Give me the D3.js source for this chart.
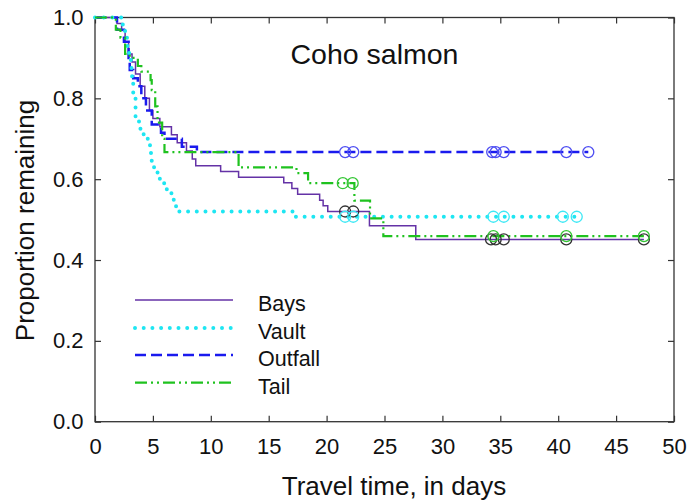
<!DOCTYPE html>
<html><head><meta charset="utf-8">
<script src="https://cdn.jsdelivr.net/npm/d3@7"></script>
<style>body{margin:0;background:#fff}svg{display:block;font-family:"Liberation Sans",Arial,sans-serif}</style>
</head><body><svg id="c" width="692" height="502"></svg>
<script>
const categories = ["Bays", "Vault", "Outfall", "Tail"];
const xTicks = [0,5,10,15,20,25,30,35,40,45,50];
const yTicks = [0.0,0.2,0.4,0.6,0.8,1.0];

const baysTimes = [0,1.9,2.3,2.6,2.9,3.2,3.5,3.9,4.3,4.7,5.0,5.6,6.6,7.1,7.9,8.4,8.7,10.85,12.4,16.3,17.0,17.5,19.4,19.7,20.1,23.7,27.7];
const baysSurv  = [1.0,0.985,0.97,0.94,0.91,0.89,0.86,0.83,0.80,0.77,0.75,0.73,0.71,0.69,0.67,0.65,0.633,0.619,0.605,0.591,0.577,0.563,0.548,0.534,0.52,0.485,0.451];
const baysEnd = 47.4;
const baysCensor = [21.6,22.3,34.2,34.6,35.3,40.7,47.4];

const vaultTimes = [0,2.4,2.6,2.8,2.95,3.1,3.2,3.3,3.5,3.8,4.2,4.6,4.75,4.9,5.1,5.4,5.6,6.0,6.4,6.6,6.8,7.0,17.3];
const vaultSurv  = [1.0,0.975,0.95,0.925,0.90,0.875,0.85,0.80,0.75,0.725,0.70,0.685,0.665,0.645,0.625,0.605,0.59,0.575,0.565,0.55,0.535,0.52,0.507];
const vaultEnd = 41.6;
const vaultCensor = [21.6,22.3,34.4,35.3,40.4,41.6];

const outfallTimes = [0,1.9,2.5,2.9,3.0,3.3,3.7,4.0,4.4,4.9,5.7,6.0,7.5,8.8];
const outfallSurv  = [1.0,0.97,0.94,0.90,0.87,0.85,0.83,0.80,0.77,0.735,0.715,0.70,0.68,0.667];
const outfallEnd = 42.6;
const outfallCensor = [21.6,22.3,34.3,34.6,35.3,40.7,42.6];

const tailTimes = [0,1.8,2.2,2.6,3.0,3.7,4.0,4.8,4.9,5.2,5.4,5.8,6.0,12.4,17.4,18.4,22.4,23.75,24.9];
const tailSurv  = [1.0,0.97,0.95,0.91,0.90,0.88,0.866,0.845,0.82,0.78,0.74,0.70,0.667,0.629,0.615,0.59,0.547,0.503,0.459];
const tailEnd = 47.4;
const tailCensor = [21.4,22.25,34.4,40.7,47.4];

const series = [
  {name:"Bays", t:baysTimes, s:baysSurv, end:baysEnd, c:baysCensor, color:"#6432a6", circ:"#333333", w:1.5, dash:null, cap:"butt"},
  {name:"Outfall", t:outfallTimes, s:outfallSurv, end:outfallEnd, c:outfallCensor, color:"#1a1aee", circ:"#4d4df2", w:2.5, dash:"11,5", cap:"butt"},
  {name:"Vault", t:vaultTimes, s:vaultSurv, end:vaultEnd, c:vaultCensor, color:"#1ee6f2", circ:"#3de8f5", w:4, dash:"0,8.7", cap:"round"},
  {name:"Tail", t:tailTimes, s:tailSurv, end:tailEnd, c:tailCensor, color:"#1fc21f", circ:"#33c633", w:2.2, dash:"12,4,2,4,2,4", cap:"butt"}
];

const svg = d3.select("#c");
const L=95, R=674, T=17.5, B=421.7;
const x = d3.scaleLinear().domain([0,50]).range([L,R]);
const y = d3.scaleLinear().domain([0,1]).range([B,T]);
const FONT = "Liberation Sans, Arial, sans-serif";

svg.append("rect").attr("x",L).attr("y",T).attr("width",R-L).attr("height",B-T)
  .attr("fill","none").attr("stroke","#333").attr("stroke-width",1.3);

const axB = svg.append("g").attr("transform",`translate(0,${B})`)
  .call(d3.axisBottom(x).tickValues(xTicks).tickSize(-6).tickPadding(17).tickFormat(d3.format("d")));
const axT = svg.append("g").attr("transform",`translate(0,${T})`)
  .call(d3.axisTop(x).tickValues(xTicks).tickSize(-6).tickFormat(""));
const axL = svg.append("g").attr("transform",`translate(${L},0)`)
  .call(d3.axisLeft(y).tickValues(yTicks).tickSize(-6).tickPadding(11.5).tickFormat(d3.format(".1f")));
const axR = svg.append("g").attr("transform",`translate(${R},0)`)
  .call(d3.axisRight(y).tickValues(yTicks).tickSize(-6).tickFormat(""));
[axB,axT,axL,axR].forEach(a=>{
  a.select(".domain").remove();
  a.selectAll("line").attr("stroke","#333").attr("stroke-width",1.2);
  a.selectAll("text").attr("font-size",22).attr("fill","#111").attr("font-family",FONT);
});

function stepVal(sr,t){let v=sr.s[0];for(let i=0;i<sr.t.length;i++){if(sr.t[i]<=t)v=sr.s[i];}return v;}

const line = d3.line().x(d=>x(d[0])).y(d=>y(d[1])).curve(d3.curveStepAfter);
series.forEach(sr=>{
  const pts = sr.t.map((t,i)=>[t,sr.s[i]]);
  pts.push([sr.end, sr.s[sr.s.length-1]]);
  const p = svg.append("path").datum(pts).attr("d",line).attr("fill","none")
    .attr("stroke",sr.color).attr("stroke-width",sr.w).attr("stroke-linecap",sr.cap);
  if(sr.dash) p.attr("stroke-dasharray",sr.dash);
});
series.forEach(sr=>{
  svg.append("g").selectAll("circle").data(sr.c).join("circle")
    .attr("cx",d=>x(d)).attr("cy",d=>y(stepVal(sr,d))).attr("r",5.5)
    .attr("fill","none").attr("stroke",sr.circ).attr("stroke-width",1.3);
});

const legOrder = ["Bays","Vault","Outfall","Tail"];
const legY = [300,328,355,382.7];
legOrder.forEach((n,i)=>{
  const sr = series.find(s=>s.name===n);
  const l = svg.append("line").attr("x1",135).attr("x2",233).attr("y1",legY[i]).attr("y2",legY[i])
    .attr("stroke",sr.color).attr("stroke-width",sr.w).attr("stroke-linecap",sr.cap);
  if(sr.dash) l.attr("stroke-dasharray",sr.dash);
  svg.append("text").attr("x",258).attr("y",legY[i]+11).attr("font-size",21.5).attr("fill","#111").attr("font-family",FONT).text(n);
});

svg.append("text").attr("x",374.5).attr("y",63.5).attr("text-anchor","middle").attr("font-size",28.5).attr("fill","#111").attr("font-family",FONT).text("Coho salmon");
svg.append("text").attr("x",394).attr("y",495).attr("text-anchor","middle").attr("font-size",26).attr("fill","#111").attr("font-family",FONT).text("Travel time, in days");
svg.append("text").attr("transform","translate(34,220.5) rotate(-90)").attr("text-anchor","middle").attr("font-size",26).attr("fill","#111").attr("font-family",FONT).text("Proportion remaining");
</script></body></html>
